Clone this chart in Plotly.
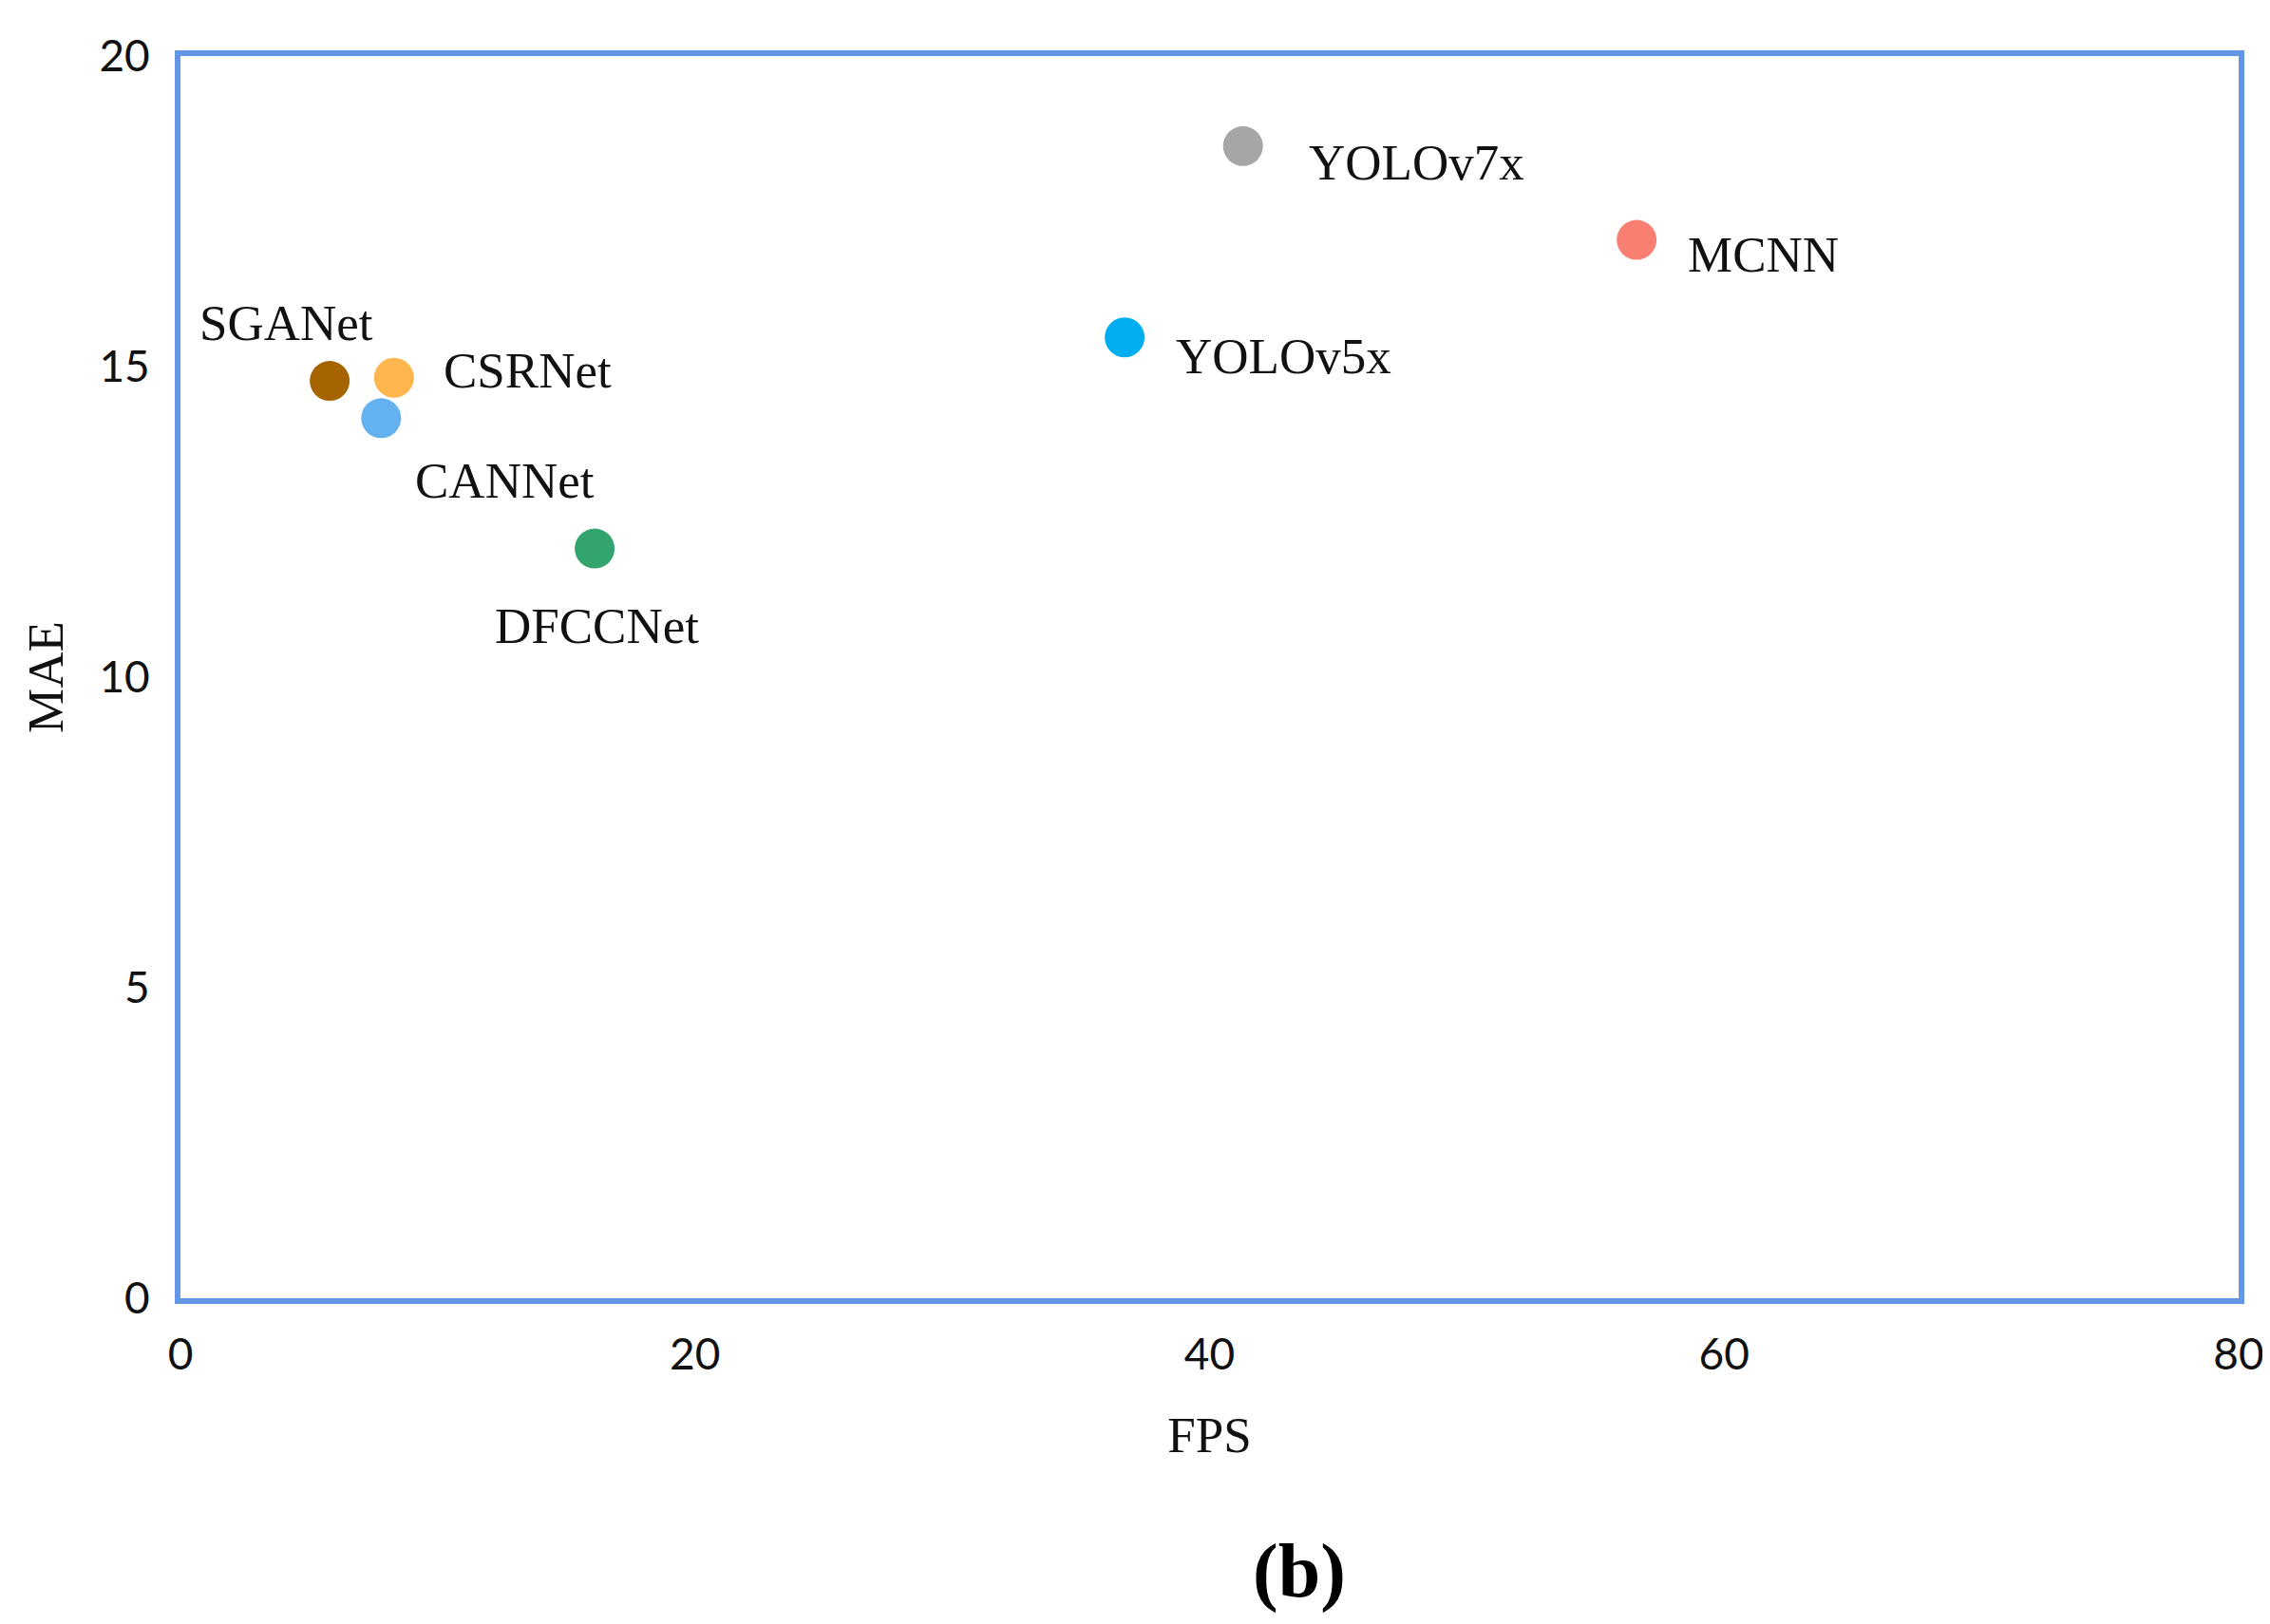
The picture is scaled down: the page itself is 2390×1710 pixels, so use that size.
import plotly.graph_objects as go

models = ["SGANet", "CSRNet", "CANNet", "DFCCNet", "YOLOv5x", "YOLOv7x", "MCNN"]
fps = [5.8, 8.3, 7.8, 16.1, 36.7, 41.3, 56.6]
mae = [14.77, 14.82, 14.17, 12.07, 15.47, 18.55, 17.04]
colors = ["#A66400", "#FFB64F", "#63B1EF", "#34A46F", "#00AEEF", "#A6A6A6", "#F97F72"]

x_ticks = [0, 20, 40, 60, 80]
y_ticks = [0, 5, 10, 15, 20]

# label placement (pixel offsets from point)
label_anchor = ["center", "left", "center", "center", "left", "left", "left"]
label_dx = [-46, 50, 130, 2, 52, 67, 52]
label_dy = [61, 8, -66, -81, -20, -17, -15]

SERIF = "Liberation Serif, Times New Roman, serif"
SANS = "Lato, Open Sans, sans-serif"
BORDER = "#6397E6"

fig = go.Figure()
fig.add_trace(go.Scatter(
    x=fps, y=mae, mode="markers",
    marker=dict(size=42, color=colors, line=dict(width=0)),
    showlegend=False, hoverinfo="skip",
))

for m, xv, yv, anc, dx, dy in zip(models, fps, mae, label_anchor, label_dx, label_dy):
    fig.add_annotation(
        x=xv, y=yv, xref="x", yref="y", text=m, showarrow=False,
        xanchor=anc, yanchor="middle", xshift=dx, yshift=dy,
        font=dict(family=SERIF, size=53, color="#111111"),
    )

fig.add_annotation(
    x=0.5436, y=-0.220, xref="paper", yref="paper", text="<b>(b)</b>",
    showarrow=False, xanchor="center", yanchor="middle",
    font=dict(family=SERIF, size=80, color="#000000"),
)

fig.update_layout(
    width=2390, height=1710,
    margin=dict(l=182, r=41, t=51, b=351),
    paper_bgcolor="white", plot_bgcolor="white",
    xaxis=dict(
        range=[0, 80], tickvals=x_ticks, ticktext=[str(v) for v in x_ticks],
        showgrid=False, zeroline=False,
        showline=True, linecolor=BORDER, linewidth=6, mirror=True,
        ticks="", ticklabelstandoff=14,
        tickfont=dict(family=SANS, size=46, color="#111111"),
        title=dict(text="FPS", font=dict(family=SERIF, size=53, color="#111111"), standoff=43),
    ),
    yaxis=dict(
        range=[0, 20], tickvals=y_ticks, ticktext=[str(v) for v in y_ticks],
        showgrid=False, zeroline=False,
        showline=True, linecolor=BORDER, linewidth=6, mirror=True,
        ticks="", ticklabelstandoff=17,
        tickfont=dict(family=SANS, size=46, color="#111111"),
        title=dict(text="MAE", font=dict(family=SERIF, size=53, color="#111111"), standoff=23),
    ),
)

fig.write_html("out.html")
